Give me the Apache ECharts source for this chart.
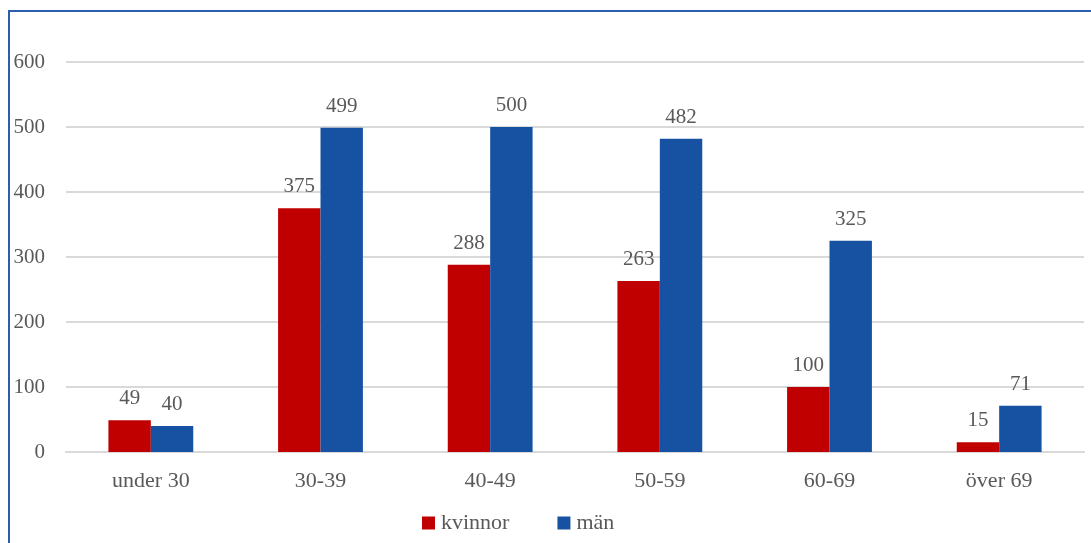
<!DOCTYPE html>
<html>
<head>
<meta charset="utf-8">
<script src="https://cdn.jsdelivr.net/npm/echarts@6/dist/echarts.min.js"></script>
<style>
  html, body { margin: 0; padding: 0; background: #fff; overflow: hidden; }
  #wrap { position: relative; width: 1091px; height: 543px; overflow: hidden; }
  #frame { position: absolute; left: 8px; top: 10px; width: 1200px; height: 700px;
           border: 2px solid #2B5EAD; box-sizing: border-box; }
  #chart { position: absolute; left: 0; top: 0; width: 1091px; height: 543px; }
</style>
</head>
<body>
<div id="wrap">
  <div id="frame"></div>
  <div id="chart"></div>
</div>
<script>
// Age groups and counts per sex
const categories = ['under 30', '30-39', '40-49', '50-59', '60-69', 'över 69'];
const kvinnor = [49, 375, 288, 263, 100, 15];
const man = [40, 499, 500, 482, 325, 71];
const yTicks = { min: 0, max: 600, interval: 100 };

const FONT = '"Liberation Serif", "DejaVu Serif", serif';
const TEXT = '#595959';

const chart = echarts.init(document.getElementById('chart'), null, { renderer: 'canvas' });

const labelStyle = {
  show: true,
  position: 'top',
  distance: 11,
  color: TEXT,
  fontFamily: FONT,
  fontSize: 21
};

chart.setOption({
  animation: false,
  textStyle: { fontFamily: FONT },
  grid: { left: 66, right: 7, top: 62, bottom: 91, containLabel: false },
  legend: {
    bottom: 4,
    left: 417,
    itemWidth: 13,
    itemHeight: 13,
    itemGap: 48,
    icon: 'rect',
    textStyle: { color: TEXT, fontFamily: FONT, fontSize: 22, padding: [0, 0, 0, 1] },
    data: ['kvinnor', 'män']
  },
  xAxis: {
    type: 'category',
    data: categories,
    axisLine: { lineStyle: { color: '#D9D9D9', width: 2 } },
    axisTick: { show: false },
    axisLabel: { color: TEXT, fontFamily: FONT, fontSize: 22, margin: 18 }
  },
  yAxis: {
    type: 'value',
    min: yTicks.min,
    max: yTicks.max,
    interval: yTicks.interval,
    axisLine: { show: false },
    axisTick: { show: false },
    axisLabel: { color: TEXT, fontFamily: FONT, fontSize: 21, margin: 21 },
    splitLine: { lineStyle: { color: '#D9D9D9', width: 2 } }
  },
  series: [
    {
      name: 'kvinnor',
      type: 'bar',
      data: kvinnor,
      itemStyle: { color: '#C00000' },
      barGap: '0%',
      barCategoryGap: '50%',
      label: labelStyle
    },
    {
      name: 'män',
      type: 'bar',
      data: man,
      itemStyle: { color: '#1752A2' },
      barGap: '0%',
      barCategoryGap: '50%',
      label: labelStyle
    }
  ]
});
</script>
</body>
</html>
